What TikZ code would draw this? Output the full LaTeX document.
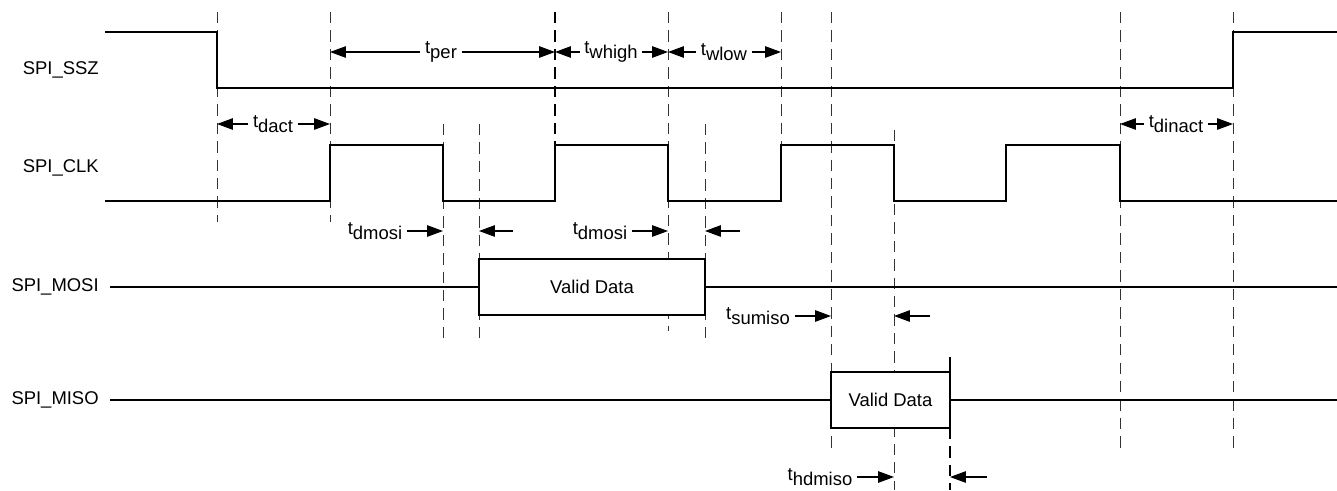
\documentclass[tikz,border=0pt]{standalone}
\usepackage{fontspec}
\setmainfont{Liberation Sans}
\usetikzlibrary{arrows.meta}
\newcommand{\tsub}[1]{t\raisebox{-0.55ex}{#1}}
\begin{document}
\begin{tikzpicture}[x=0.02cm, y=-0.02cm,
    font=\fontsize{10.5}{12.6}\selectfont,
    signal/.style={line width=1pt},
    guide/.style={black!80, line width=0.55pt, dash pattern=on 6.5pt off 4pt},
    boldguide/.style={black, line width=1.3pt, dash pattern=on 6.5pt off 4pt},
    timing/.style={line width=0.6pt, -{Triangle[length=9pt, width=6.5pt]}},
    validbox/.style={draw, fill=white, line width=1.35pt, inner sep=0pt, minimum height=1.12cm},
    signame/.style={anchor=east, inner sep=0pt},
    tlabel/.style={inner xsep=2.5pt, inner ysep=1pt}]
        \useasboundingbox (0,0) rectangle (1337,490);
        % time points
        \coordinate (sszfall)  at ( 217, 0);
        \coordinate (clkrise1) at ( 330, 0);
        \coordinate (clkfall1) at ( 443, 0);
        \coordinate (mosion)   at ( 479, 0);
        \coordinate (clkrise2) at ( 555, 0);
        \coordinate (clkfall2) at ( 668, 0);
        \coordinate (mosioff)  at ( 705, 0);
        \coordinate (clkrise3) at ( 781, 0);
        \coordinate (misoon)   at ( 831, 0);
        \coordinate (clkfall3) at ( 894, 0);
        \coordinate (misooff)  at ( 950, 0);
        \coordinate (clkfall4) at (1120, 0);
        \coordinate (sszrise)  at (1233, 0);
        % guide lines
        \foreach \x/\a/\b in {217/12/222, 330/12/222, 443/124/342, 479/124/342,
                              668/12/331, 705/124/342, 781/12/201, 831/12/448,
                              894/130/490, 1120/12/448, 1233/12/448}
            \draw[guide] (\x,\a) -- (\x,\b);
        \draw[boldguide] (555,12) -- (555,201);
        \draw[line width=1.3pt] (950,357) -- (950,372);
        \draw[boldguide] (950,428) -- (950,490);
        % signal names
        \node[signame] (ssz)  at (99, 70) {SPI\_SSZ};
        \node[signame] (clk)  at (99,168) {SPI\_CLK};
        \node[signame] (mosi) at (99,287) {SPI\_MOSI};
        \node[signame] (miso) at (99,400) {SPI\_MISO};
        % waveforms
        \draw[signal] (105,32) -| (217,88) -| (1233,32) -- (1337,32);
        \draw[signal] (105,201) -| (330,145) -| (443,201) -| (555,145) -| (668,201)
                      -| (781,145) -| (894,201) -| (1006,145) -| (1120,201) -- (1337,201);
        \node[validbox, minimum width=4.52cm] (mosidata) at (592,287) {Valid Data};
        \node[validbox, minimum width=2.38cm] (misodata) at (890.5,400) {Valid Data};
        \draw[signal] (mosi.east) ++(11,0) -- (mosidata.west);
        \draw[signal] (mosidata.east) -- (1337,287);
        \draw[signal] (miso.east) ++(11,0) -- (misodata.west);
        \draw[signal] (misodata.east) -- (1337,400);
        % timing parameters
        \node[tlabel] (per) at (441,52) {\tsub{per}};
        \draw[timing] (per) -- (per -| clkrise1);
        \draw[timing] (per) -- (per -| clkrise2);
        \node[tlabel] (whigh) at (611,52) {\tsub{whigh}};
        \draw[timing] (whigh) -- (whigh -| clkrise2);
        \draw[timing] (whigh) -- (whigh -| clkfall2);
        \node[tlabel] (wlow) at (724,52) {\tsub{wlow}};
        \draw[timing] (wlow) -- (wlow -| clkfall2);
        \draw[timing] (wlow) -- (wlow -| clkrise3);
        \node[tlabel] (dact) at (273,124) {\tsub{dact}};
        \draw[timing] (dact) -- (dact -| sszfall);
        \draw[timing] (dact) -- (dact -| clkrise1);
        \node[tlabel] (dinact) at (1176,124) {\tsub{dinact}};
        \draw[timing] (dinact) -- (dinact -| clkfall4);
        \draw[timing] (dinact) -- (dinact -| sszrise);
        \node[tlabel] (dmosia) at (375,231) {\tsub{dmosi}};
        \coordinate (dmosiatail) at (513,231);
        \draw[timing] (dmosia) -- (dmosia -| clkfall1);
        \draw[timing] (dmosiatail) -- (dmosiatail -| mosion);
        \node[tlabel] (dmosib) at (600,231) {\tsub{dmosi}};
        \coordinate (dmosibtail) at (740,231);
        \draw[timing] (dmosib) -- (dmosib -| clkfall2);
        \draw[timing] (dmosibtail) -- (dmosibtail -| mosioff);
        \node[tlabel] (sumiso) at (758,316) {\tsub{sumiso}};
        \coordinate (sumisotail) at (930,316);
        \draw[timing] (sumiso) -- (sumiso -| misoon);
        \draw[timing] (sumisotail) -- (sumisotail -| clkfall3);
        \node[tlabel] (hdmiso) at (820,477) {\tsub{hdmiso}};
        \coordinate (hdmisotail) at (987,477);
        \draw[timing] (hdmiso) -- (hdmiso -| clkfall3);
        \draw[timing] (hdmisotail) -- (hdmisotail -| misooff);
\end{tikzpicture}
\end{document}
